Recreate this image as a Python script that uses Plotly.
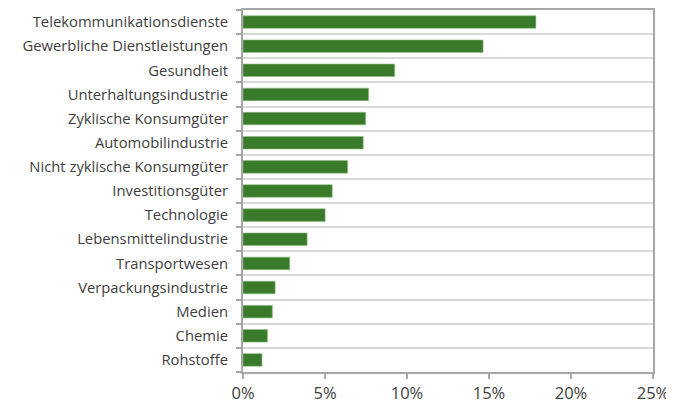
import plotly.graph_objects as go

categories = [
    "Telekommunikationsdienste",
    "Gewerbliche Dienstleistungen",
    "Gesundheit",
    "Unterhaltungsindustrie",
    "Zyklische Konsumgüter",
    "Automobilindustrie",
    "Nicht zyklische Konsumgüter",
    "Investitionsgüter",
    "Technologie",
    "Lebensmittelindustrie",
    "Transportwesen",
    "Verpackungsindustrie",
    "Medien",
    "Chemie",
    "Rohstoffe",
]
values = [17.86, 14.64, 9.25, 7.66, 7.48, 7.33, 6.38, 5.44, 5.01, 3.91, 2.85, 1.96, 1.79, 1.49, 1.16]
x_tickvals = [0, 5, 10, 15, 20, 25]
x_ticktext = ["0%", "5%", "10%", "15%", "20%", "25%"]

fig = go.Figure(
    go.Bar(
        x=values,
        y=categories,
        orientation="h",
        marker=dict(color="#3a7a2b", line=dict(color="#8fbf80", width=0.6)),
        width=0.52,
    )
)

fig.update_layout(
    width=666,
    height=395,
    margin=dict(l=235, r=21, t=2, b=31),
    paper_bgcolor="white",
    plot_bgcolor="white",
    showlegend=False,
    font=dict(family="Open Sans, sans-serif", color="#404040"),
)

fig.update_xaxes(
    range=[0, 25],
    tickvals=x_tickvals,
    ticktext=x_ticktext,
    showgrid=False,
    zeroline=False,
    showline=True,
    mirror=True,
    linecolor="#a6a6a6",
    linewidth=2,
    ticks="outside",
    ticklen=5,
    tickcolor="#a6a6a6",
    tickwidth=2,
    tickfont=dict(size=16.5, color="#404040"),
    ticklabelstandoff=0,
    automargin=False,
)

fig.update_yaxes(
    categoryorder="array",
    categoryarray=categories[::-1],
    tickson="boundaries",
    showgrid=True,
    gridcolor="#d9d9d9",
    gridwidth=2,
    showline=True,
    mirror=True,
    linecolor="#a6a6a6",
    linewidth=2,
    ticks="outside",
    ticklen=5,
    tickcolor="#a6a6a6",
    tickwidth=2,
    tickfont=dict(size=14.8, color="#404040"),
    ticklabelstandoff=10,
    automargin=False,
)

fig.write_html("out.html")
